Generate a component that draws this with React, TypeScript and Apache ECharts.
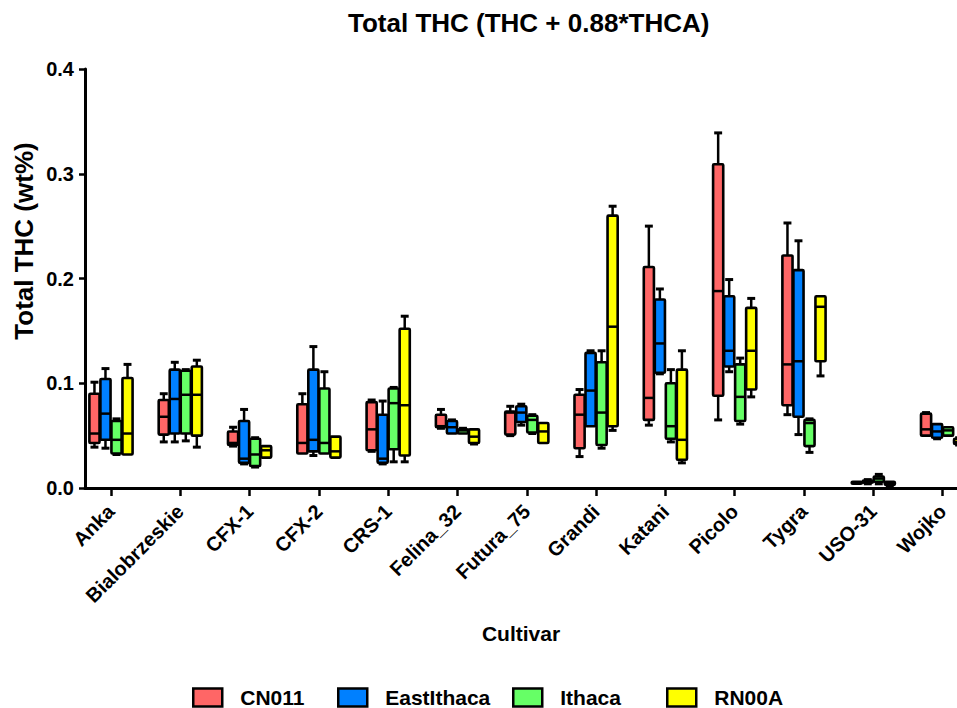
import React, { useEffect, useRef } from "react";
import * as echarts from "echarts";

const cultivars = [
  "Anka", "Bialobrzeskie", "CFX-1", "CFX-2", "CRS-1", "Felina_32", "Futura_75",
  "Grandi", "Katani", "Picolo", "Tygra", "USO-31", "Wojko",
];
const groupNames = ["CN011", "EastIthaca", "Ithaca", "RN00A"];
const groupColors = ["#FF6666", "#0080FF", "#66FF66", "#FFFF00"];
const yTicks = [0, 0.1, 0.2, 0.3, 0.4];

// Five-number summaries per cultivar: [min, q1, median, q3, max]
const cn011 = [
  [0.039, 0.043, 0.052, 0.090, 0.101],
  [0.044, 0.051, 0.068, 0.084, 0.090],
  [0.040, 0.041, 0.043, 0.054, 0.058],
  [0.033, 0.033, 0.043, 0.080, 0.090],
  [0.035, 0.036, 0.056, 0.082, 0.084],
  [0.057, 0.058, 0.059, 0.070, 0.075],
  [0.050, 0.051, 0.072, 0.073, 0.078],
  [0.030, 0.038, 0.070, 0.089, 0.094],
  [0.060, 0.065, 0.086, 0.211, 0.250],
  [0.065, 0.088, 0.188, 0.309, 0.339],
  [0.070, 0.079, 0.118, 0.222, 0.253],
  [0.004, 0.004, 0.005, 0.006, 0.006],
  [0.050, 0.050, 0.056, 0.071, 0.072],
];
const eastIthaca = [
  [0.038, 0.046, 0.071, 0.104, 0.114],
  [0.044, 0.052, 0.085, 0.113, 0.120],
  [0.023, 0.024, 0.028, 0.064, 0.075],
  [0.031, 0.035, 0.046, 0.113, 0.135],
  [0.023, 0.024, 0.028, 0.070, 0.083],
  [0.052, 0.052, 0.058, 0.064, 0.065],
  [0.060, 0.063, 0.072, 0.078, 0.080],
  [0.059, 0.059, 0.093, 0.129, 0.131],
  [0.109, 0.110, 0.138, 0.180, 0.190],
  [0.111, 0.116, 0.131, 0.183, 0.199],
  [0.051, 0.068, 0.121, 0.208, 0.236],
  [0.004, 0.005, 0.006, 0.007, 0.008],
  [0.047, 0.048, 0.054, 0.061, 0.061],
];
const ithaca = [
  [0.032, 0.033, 0.046, 0.064, 0.066],
  [0.045, 0.052, 0.089, 0.112, 0.113],
  [0.020, 0.021, 0.032, 0.047, 0.048],
  [0.033, 0.033, 0.043, 0.095, 0.111],
  [0.025, 0.037, 0.081, 0.095, 0.096],
  [0.052, 0.052, 0.055, 0.056, 0.057],
  [0.052, 0.053, 0.065, 0.069, 0.070],
  [0.038, 0.041, 0.072, 0.120, 0.131],
  [0.044, 0.047, 0.059, 0.100, 0.113],
  [0.061, 0.064, 0.087, 0.118, 0.124],
  [0.034, 0.040, 0.062, 0.065, 0.066],
  [0.004, 0.006, 0.009, 0.011, 0.013],
  [0.050, 0.050, 0.055, 0.058, 0.058],
];
const rn00a = [
  [0.032, 0.032, 0.052, 0.105, 0.118],
  [0.039, 0.050, 0.089, 0.116, 0.122],
  [0.029, 0.029, 0.036, 0.040, 0.040],
  [0.029, 0.029, 0.035, 0.049, 0.049],
  [0.025, 0.031, 0.079, 0.152, 0.164],
  [0.042, 0.043, 0.049, 0.056, 0.056],
  [0.043, 0.043, 0.054, 0.062, 0.062],
  [0.055, 0.059, 0.154, 0.260, 0.269],
  [0.024, 0.027, 0.046, 0.113, 0.131],
  [0.087, 0.094, 0.131, 0.172, 0.181],
  [0.107, 0.121, 0.173, 0.183, 0.183],
  [0.002, 0.003, 0.0045, 0.006, 0.006],
  [0.041, 0.042, 0.044, 0.047, 0.048],
];

const groupData = [cn011, eastIthaca, ithaca, rn00a];
const legendLeft = [192, 337, 512, 666];

const FONT = "Liberation Sans, Arial, Helvetica, sans-serif";

function makeRenderer(slot: number, color: string) {
  return (params: any, api: any) => {
    const xi = api.value(0);
    const base = api.coord([xi, api.value(1)]);
    const yMin = base[1];
    const yQ1 = api.coord([xi, api.value(2)])[1];
    const yMed = api.coord([xi, api.value(3)])[1];
    const yQ3 = api.coord([xi, api.value(4)])[1];
    const yMax = api.coord([xi, api.value(5)])[1];
    const band = api.size([1, 0])[0];
    const step = band * 0.159;
    const cx = base[0] + (slot - 1.5) * step;
    const hw = step * 0.46;
    const cap = step * 0.36;
    const line = (x1: number, y1: number, x2: number, y2: number, w: number) => ({
      type: "line",
      shape: { x1, y1, x2, y2 },
      style: { stroke: "#000", lineWidth: w },
    });
    const children: any[] = [];
    if (yMax < yQ3 - 0.5) {
      children.push(line(cx, yMax, cx, yQ3, 2.5));
      children.push(line(cx - cap, yMax, cx + cap, yMax, 3));
    }
    if (yMin > yQ1 + 0.5) {
      children.push(line(cx, yQ1, cx, yMin, 2.5));
      children.push(line(cx - cap, yMin, cx + cap, yMin, 3));
    }
    children.push({
      type: "rect",
      shape: { x: cx - hw, y: yQ3, width: hw * 2, height: Math.max(yQ1 - yQ3, 1), r: 1 },
      style: { fill: color, stroke: "#000", lineWidth: 2.6, lineJoin: "round" },
    });
    children.push(line(cx - hw, yMed, cx + hw, yMed, 2.5));
    return { type: "group", children };
  };
}

export default function App() {
  const ref = useRef<HTMLDivElement>(null);

  useEffect(() => {
    if (!ref.current) return;
    const chart = echarts.init(ref.current, null, { renderer: "svg" });

    const series = groupNames.map((name, k) => ({
      name,
      type: "custom",
      clip: true,
      itemStyle: { color: groupColors[k] },
      encode: { x: 0, y: [1, 2, 3, 4, 5] },
      data: groupData[k].map((s, i) => [i, ...s]),
      renderItem: makeRenderer(k, groupColors[k]),
    }));

    const legends = groupNames.map((name, k) => ({
      data: [name],
      left: legendLeft[k],
      top: 687,
      padding: 0,
      icon: "rect",
      itemWidth: 29,
      itemHeight: 18,
      itemStyle: { borderColor: "#000", borderWidth: 2.5 },
      textStyle: {
        fontFamily: FONT,
        fontWeight: "bold",
        fontSize: 21,
        color: "#000",
        padding: [0, 0, 0, 13],
      },
      selectedMode: false,
    }));

    chart.setOption({
      animation: false,
      backgroundColor: "#fff",
      title: {
        text: "Total THC (THC + 0.88*THCA)",
        left: 343,
        top: 5,
        textStyle: { fontFamily: FONT, fontWeight: "bold", fontSize: 26, color: "#000" },
      },
      legend: legends,
      grid: { left: 85, right: 0, top: 69, bottom: 220 },
      xAxis: {
        type: "value",
        min: -0.375,
        max: 12.208,
        name: "Cultivar",
        nameLocation: "middle",
        nameGap: 135,
        nameTextStyle: { fontFamily: FONT, fontWeight: "bold", fontSize: 21, color: "#000" },
        splitLine: { show: false },
        axisLine: { show: true, onZero: false, lineStyle: { color: "#000", width: 3 } },
        axisTick: {
          show: true,
          length: 8,
          customValues: cultivars.map((_, i) => i),
          lineStyle: { color: "#000", width: 2.5 },
        },
        axisLabel: {
          customValues: cultivars.map((_, i) => i),
          formatter: (v: number) => cultivars[Math.round(v)] ?? "",
          rotate: 45,
          margin: 20,
          fontFamily: FONT,
          fontWeight: "bold",
          fontSize: 20,
          color: "#000",
        },
      },
      yAxis: {
        type: "value",
        min: 0,
        max: 0.4,
        interval: 0.1,
        splitLine: { show: false },
        axisLine: { show: true, onZero: false, lineStyle: { color: "#000", width: 3 } },
        axisTick: { show: true, length: 6, lineStyle: { color: "#000", width: 2.5 } },
        axisLabel: {
          margin: 11,
          formatter: (v: number) => (yTicks.includes(Math.round(v * 10) / 10) ? v.toFixed(1) : ""),
          fontFamily: FONT,
          fontWeight: "bold",
          fontSize: 20,
          color: "#000",
        },
      },
      graphic: [
        {
          type: "text",
          x: 24,
          y: 241,
          rotation: Math.PI / 2,
          style: {
            text: "Total THC (wt%)",
            fontFamily: FONT,
            fontWeight: "bold",
            fontSize: 26,
            fill: "#000",
            align: "center",
            verticalAlign: "middle",
          },
        },
      ],
      series,
    });

    return () => chart.dispose();
  }, []);

  return (
    <div
      ref={ref}
      style={{ position: "absolute", left: 0, top: 0, width: 957, height: 708 }}
    />
  );
}
